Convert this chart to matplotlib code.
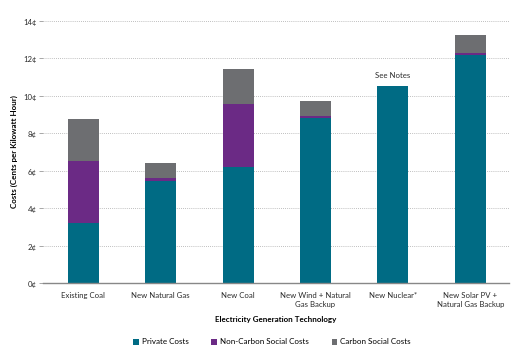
import matplotlib
matplotlib.use("Agg")
import matplotlib.pyplot as plt
import numpy as np

categories = ["Existing Coal", "New Natural Gas", "New Coal",
              "New Wind + Natural\nGas Backup", "New Nuclear*",
              "New Solar PV +\nNatural Gas Backup"]
private_costs = [3.2, 5.45, 6.2, 8.83, 10.54, 12.16]
non_carbon_costs = [3.34, 0.15, 3.35, 0.1, 0.0, 0.1]
carbon_costs = [2.22, 0.83, 1.9, 0.8, 0.0, 0.96]
series_names = ["Private Costs", "Non-Carbon Social Costs", "Carbon Social Costs"]
yticks = [0, 2, 4, 6, 8, 10, 12, 14]
ytick_labels = ["0¢", "2¢", "4¢", "6¢", "8¢", "10¢", "12¢", "14¢"]
annotation_text = "See Notes"
annotation_idx = 4

colors = ["#006B84", "#6B2A85", "#6D6E71"]

plt.rcParams['font.family'] = ['Lato', 'DejaVu Sans']

fig = plt.figure(figsize=(5.2, 3.57), dpi=100)
ax = fig.add_axes([43/520, 1 - 283.3/357, (509-43)/520, (283.3-20.8)/357])

x = np.arange(len(categories))
w = 0.4
p = np.array(private_costs)
n = np.array(non_carbon_costs)
c = np.array(carbon_costs)
ax.bar(x, p, w, color=colors[0], linewidth=0, label=series_names[0], zorder=3)
ax.bar(x, n, w, bottom=p, color=colors[1], linewidth=0, label=series_names[1], zorder=3)
ax.bar(x, c, w, bottom=p + n, color=colors[2], linewidth=0, label=series_names[2], zorder=3)

tot = p + n + c
ax.text(x[annotation_idx], tot[annotation_idx] + 0.35, annotation_text, ha="center", va="bottom",
        fontsize=5.6, color="#2A2A2A")

ax.set_xlim(-0.52, 5.5)
ax.set_ylim(0, 14)
ax.set_yticks(yticks)
ax.set_yticklabels(ytick_labels)
ax.set_xticks(x)
ax.set_xticklabels(categories, linespacing=1.4)
ax.tick_params(axis="y", length=3, width=0.6, color="#999999", labelsize=5.6, labelcolor="#2A2A2A", pad=1.5)
ax.tick_params(axis="x", length=0, labelsize=5.6, labelcolor="#2A2A2A", pad=6)
ax.yaxis.grid(True, linestyle=(0, (1, 1.5)), color="#AAAAAA", linewidth=0.6, zorder=0)
for s in ["top", "right", "left"]:
    ax.spines[s].set_visible(False)
ax.spines["bottom"].set_color("#888888")
ax.spines["bottom"].set_linewidth(1.0)
ax.spines["bottom"].set_zorder(4)

ax.set_xlabel("Electricity Generation Technology", fontsize=5.8, fontweight="bold", labelpad=6)
ax.set_ylabel("Costs (Cents per Kilowatt Hour)", fontsize=5.8, fontweight="bold", labelpad=4)

leg = fig.legend(loc="center", bbox_to_anchor=(272/520, 1 - 342/357), ncol=3, frameon=False,
                 fontsize=5.8, handlelength=0.7, handleheight=0.7, handletextpad=0.4, columnspacing=2.8)

fig.savefig("out.png", dpi=100)
